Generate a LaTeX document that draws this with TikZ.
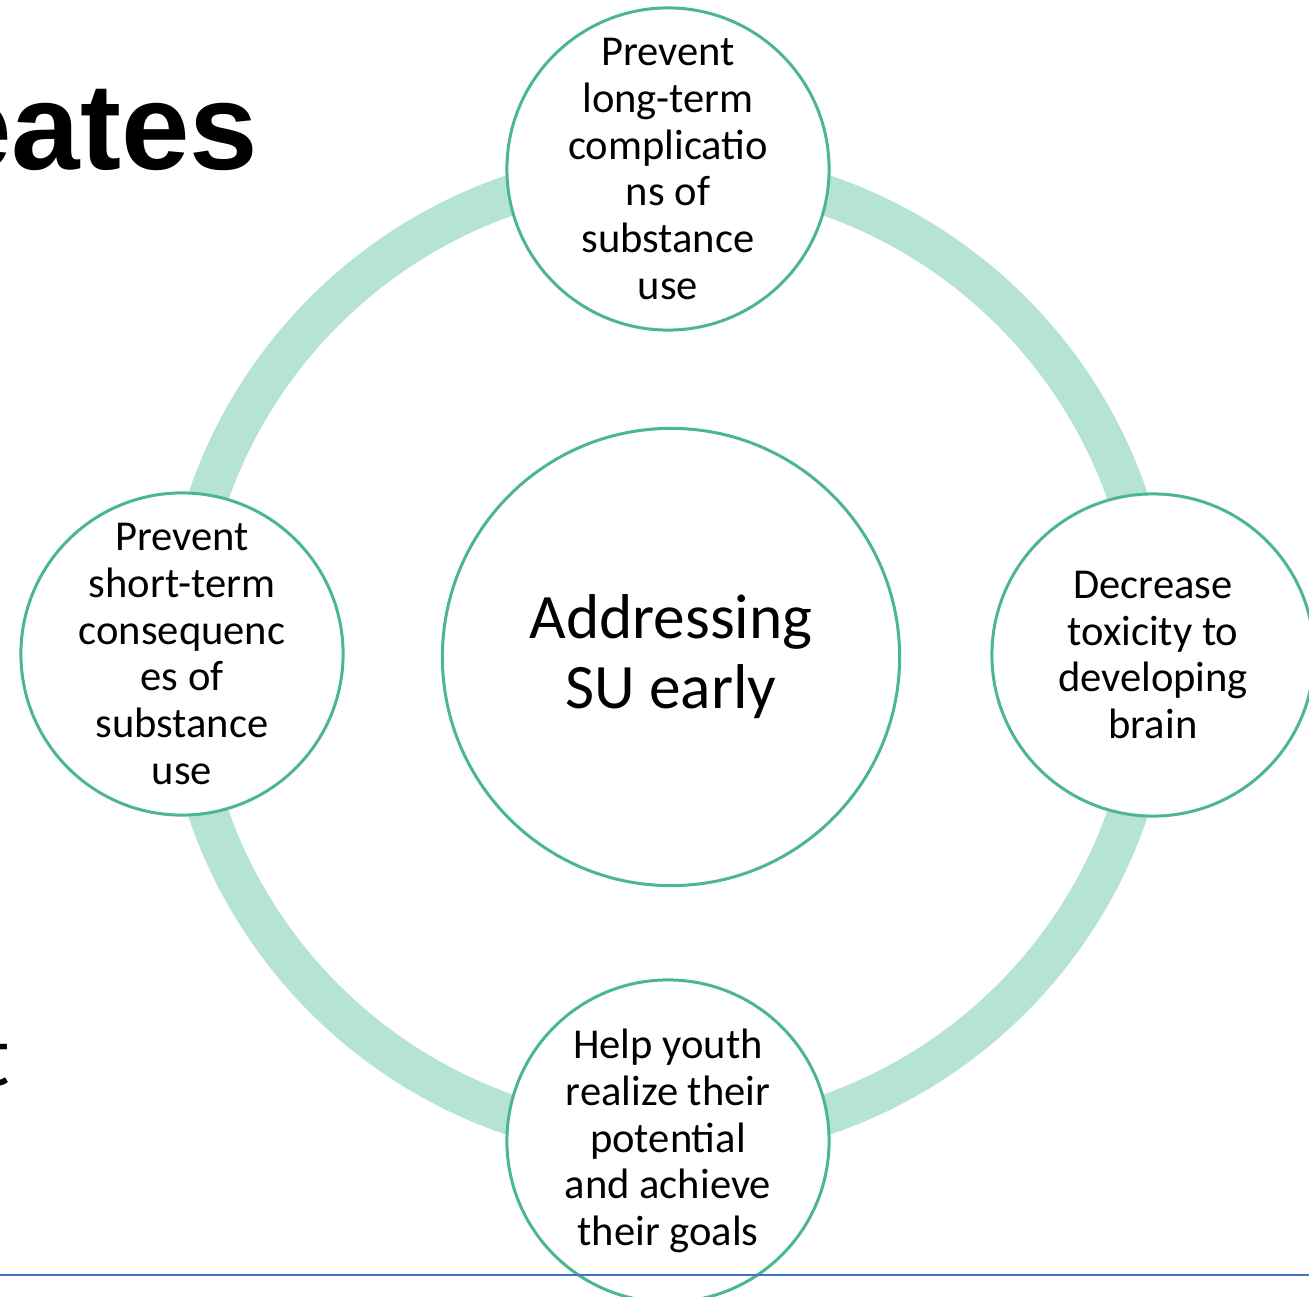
\documentclass[tikz,border=0pt]{standalone}
\usepackage{fontspec}
\setmainfont{Carlito}
\newfontfamily\titlefont{Liberation Sans}
\definecolor{ringfill}{RGB}{181,227,212}
\definecolor{ringline}{RGB}{76,181,146}
\definecolor{slideline}{RGB}{68,114,196}

\begin{document}
\begin{tikzpicture}[x=0.01cm, y=-0.01cm,
        every circle node/.append style={draw=ringline, line width=0.85pt, fill=white}]
      \tikzstyle{goal} = [circle, minimum size=3.22cm, inner sep=-0.6cm,
        align=center, font=\fontsize{12.1pt}{13.3pt}\selectfont]
      \tikzstyle{core} = [circle, minimum size=4.57cm, inner sep=-0.6cm,
        align=center, font=\fontsize{18pt}{19.9pt}\selectfont]
      \useasboundingbox (0,0) rectangle (1309,1297);
      % bits of the slide behind the diagram
      \node (Title) [anchor=base east, inner sep=0, font=\titlefont\bfseries\fontsize{35pt}{40pt}\selectfont] at (259,170) {eates};
      \node (Body) [anchor=base east, inner sep=0, font=\fontsize{25pt}{30pt}\selectfont] at (11,1085) {t};
      % the ring
      \draw[ringfill, line width=0.4cm] (668,655) circle (486);
      \node (SU) [core] at (671,657) {\raisebox{-1.2pt}{\parbox{4cm}{\centering Addressing\\SU early}}};
      \node (Longterm) [goal] at (668,169) {Prevent\\long-term\\complicatio\\ns of\\substance\\use};
      \node (Toxicity) [goal] at (1153,655) {Decrease\\toxicity to\\developing\\brain};
      \node (Youth) [goal] at (668,1141) {Help youth\\realize their\\potential\\and achieve\\their goals};
      \node (Shortterm) [goal] at (182,654) {Prevent\\short-term\\consequenc\\es of\\substance\\use};
      \coordinate (LineL) at (0,1275);
      \coordinate (LineR) at (1309,1275);
      \draw[slideline, line width=0.55pt] (LineL) -- (LineR);
    \end{tikzpicture}
\end{document}
